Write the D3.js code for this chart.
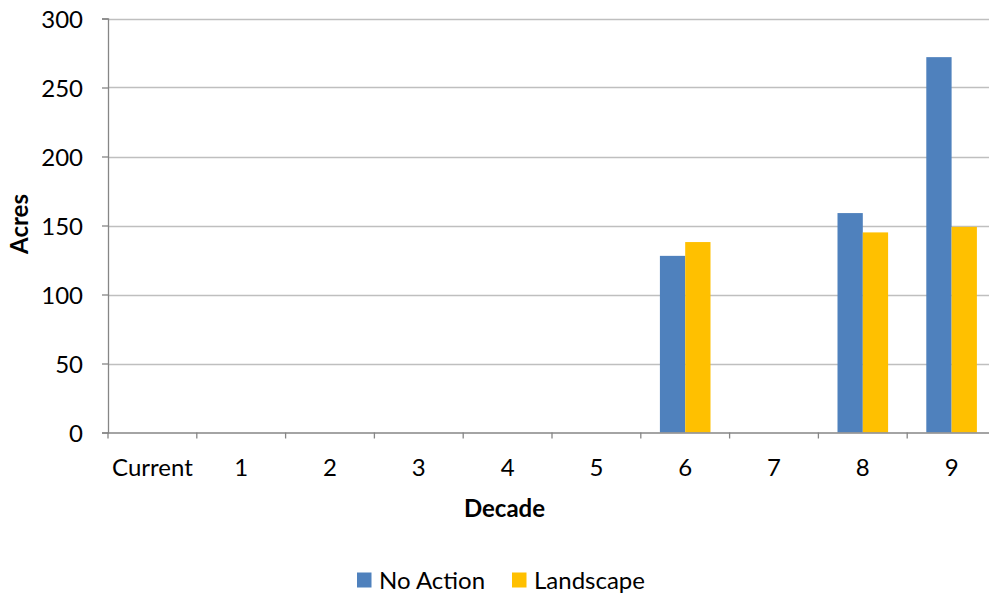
<!DOCTYPE html>
<html><head><meta charset="utf-8">
<script src="https://cdn.jsdelivr.net/npm/d3@7"></script>
<style>body{margin:0;background:#fff;overflow:hidden}text{font-family:Lato,"Open Sans",sans-serif;fill:#000}</style>
</head><body><svg id="c" width="989" height="594"></svg>
<script>
const categories = ["Current","1","2","3","4","5","6","7","8","9"];
const noAction = [0,0,0,0,0,0,128,0,159,272];
const landscape = [0,0,0,0,0,0,138,0,145,149];
const yTicks = [0,50,100,150,200,250,300];
const seriesNames = ["No Action","Landscape"];
const colors = ["#4F81BD","#FFC000"];

const svg = d3.select("#c");
const pLeft=108, pRight=996, pTop=18.5, pBottom=432.5;
const FS = "24px";
const x = d3.scaleBand().domain(categories).range([pLeft,pRight]).paddingInner(0).paddingOuter(0);
const xs = d3.scaleBand().domain(seriesNames).range([0,x.bandwidth()]).paddingInner(0).paddingOuter(0.755);
const y = d3.scaleLinear().domain([0,300]).range([pBottom,pTop]);

// gridlines
svg.append("g").selectAll("line").data(yTicks.slice(1)).join("line")
  .attr("x1",pLeft).attr("x2",pRight).attr("y1",d=>Math.round(y(d))+0.5).attr("y2",d=>Math.round(y(d))+0.5)
  .attr("stroke","#BFBFBF").attr("stroke-width",1.3);

// bars
const data = [noAction, landscape];
data.forEach((vals,si)=>{
  svg.append("g").selectAll("rect").data(vals).join("rect")
    .attr("x",(d,i)=>x(categories[i])+xs(seriesNames[si]))
    .attr("width",xs.bandwidth())
    .attr("y",d=>y(d)).attr("height",d=>pBottom-y(d))
    .attr("fill",colors[si]);
});

// y axis
const ya = svg.append("g").attr("transform",`translate(${pLeft},0)`)
  .call(d3.axisLeft(y).tickValues(yTicks).tickSize(6).tickPadding(19));
ya.select(".domain").attr("stroke","#868686").attr("stroke-width",1.3);
ya.selectAll(".tick line").attr("stroke","#868686").attr("stroke-width",1.3);
ya.selectAll("text").attr("font-size",FS).attr("font-family","Lato,sans-serif").attr("fill","#000").attr("dy","0.36em");

// x axis
const xa = svg.append("g").attr("transform",`translate(0,${pBottom})`)
  .call(d3.axisBottom(x).tickSize(0));
xa.select(".domain").attr("stroke","#868686").attr("stroke-width",1.3).attr("d",`M${pLeft},0.5H${pRight}`);
xa.selectAll("text").attr("font-size",FS).attr("font-family","Lato,sans-serif").attr("fill","#000")
  .attr("y",476-pBottom).attr("dy",0);
svg.append("g").selectAll("line").data(d3.range(categories.length+1)).join("line")
  .attr("x1",i=>pLeft+i*x.bandwidth()).attr("x2",i=>pLeft+i*x.bandwidth())
  .attr("y1",pBottom).attr("y2",pBottom+6).attr("stroke","#868686").attr("stroke-width",1.3);

// titles
svg.append("text").attr("transform","translate(28,224) rotate(-90)").attr("text-anchor","middle")
  .attr("font-size",FS).attr("font-weight","bold").text("Acres");
svg.append("text").attr("x",504.5).attr("y",516.5).attr("text-anchor","middle")
  .attr("font-size",FS).attr("font-weight","bold").text("Decade");

// legend
const lg = svg.append("g");
const lx=[357,512];
seriesNames.forEach((n,i)=>{
  lg.append("rect").attr("x",lx[i]).attr("y",572.5).attr("width",14.5).attr("height",15).attr("fill",colors[i]);
  lg.append("text").attr("x",lx[i]+22).attr("y",589).attr("font-size",FS).text(n);
});
</script></body></html>
